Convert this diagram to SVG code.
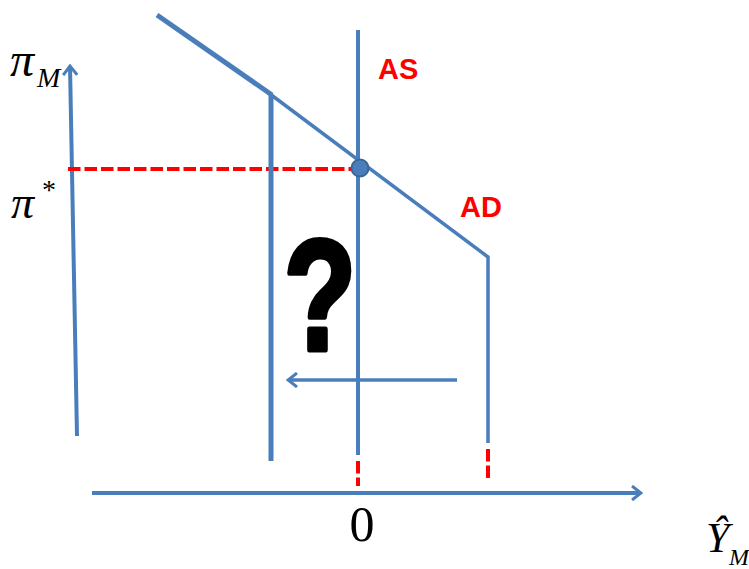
<svg xmlns="http://www.w3.org/2000/svg" width="749" height="569" viewBox="0 0 749 569">
<defs>
<style>
.ln{stroke:#4a7ebb;fill:none;stroke-linecap:butt}
.rd{stroke:#ff0000;fill:none;stroke-width:4;stroke-dasharray:12.5 4}
.lbl{font-family:"Liberation Sans",Arial,sans-serif;font-weight:bold;fill:#ff0000;font-size:29px}
.mth{font-family:"Liberation Serif","Times New Roman",serif;fill:#000}
.q{font-family:"Liberation Sans",Arial,sans-serif;font-weight:bold;fill:#000;stroke:#000;stroke-width:5;stroke-linejoin:round}
</style>
<marker id="chev" markerWidth="12" markerHeight="16" refX="10" refY="8" orient="auto" markerUnits="userSpaceOnUse">
<path d="M1,1 L10,8 L1,15" fill="none" stroke="#4a7ebb" stroke-width="3"/>
</marker>
</defs>
<g id="connectors">
<line id="y-axis" class="ln" x1="77" y1="436" x2="70" y2="66" stroke-width="4" marker-end="url(#chev)"/>
<line id="x-axis" class="ln" x1="92" y1="493" x2="641" y2="493" stroke-width="4" marker-end="url(#chev)"/>
<line id="shift-arrow" class="ln" x1="457" y1="380" x2="288" y2="380" stroke-width="3.5" marker-end="url(#chev)"/>
<line id="pi-star-dash" class="rd" x1="68" y1="169" x2="352" y2="169"/>
<line id="as-dash" class="rd" x1="358" y1="461" x2="358" y2="486" stroke-dasharray="11 4"/>
<line id="ad-dash" class="rd" x1="488" y1="449" x2="488" y2="478" stroke-dasharray="11 5"/>
</g>
<g id="ad-curve">
<line class="ln" x1="157" y1="15" x2="272" y2="95" stroke-width="5"/>
<polyline class="ln" points="266,91 488,257 488,443" stroke-width="3.5"/>
</g>
<g id="new-as">
<line class="ln" x1="271" y1="95" x2="271" y2="461" stroke-width="5"/>
</g>
<g id="as-line">
<line class="ln" x1="358" y1="30" x2="358" y2="455" stroke-width="4"/>
</g>
<g id="equilibrium">
<circle cx="360" cy="168" r="8.5" fill="#4a7ebb" stroke="#3a6699" stroke-width="2"/>
</g>
<g id="labels">
<text class="lbl" x="378" y="79">AS</text>
<text class="lbl" x="460" y="217">AD</text>
<text class="q" font-size="152" text-anchor="middle" transform="translate(320,350) scale(0.78,1.04)">?</text>
<text class="mth" x="10" y="76" font-size="48" font-style="italic">π</text>
<text class="mth" x="37" y="87" font-size="28" font-style="italic">M</text>
<text class="mth" x="11" y="218" font-size="46" font-style="italic">π</text>
<text class="mth" x="42" y="199" font-size="28">*</text>
<text class="mth" x="362" y="541" font-size="50" text-anchor="middle">0</text>
<text class="mth" x="706" y="552" font-size="42" font-style="italic">Ŷ</text>
<text class="mth" x="729" y="565" font-size="24" font-style="italic">M</text>
</g>
</svg>
